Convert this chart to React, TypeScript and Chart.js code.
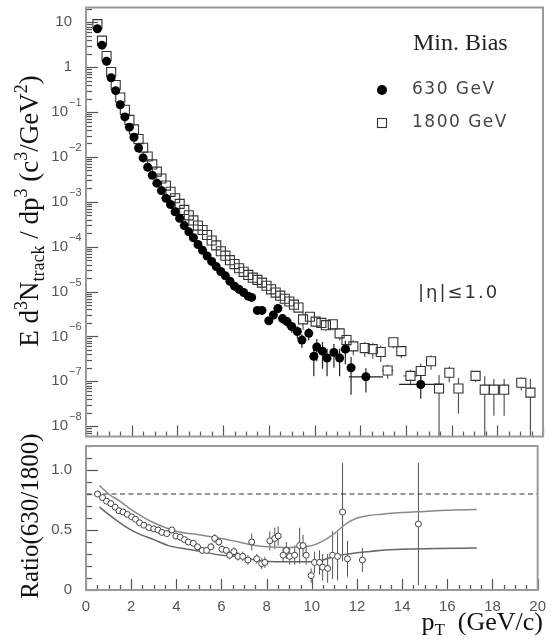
import React, { useEffect, useRef } from 'react';
import { Chart, registerables } from 'chart.js';
Chart.register(...registerables);

// ---------- data: 630 GeV spectrum (filled circles) ----------
const pt630 = [0.5, 0.7, 0.9, 1.1, 1.3, 1.5, 1.7, 1.9, 2.1, 2.3, 2.5, 2.7, 2.9, 3.1, 3.3, 3.5, 3.7, 3.9, 4.1, 4.3,
  4.5, 4.7, 4.9, 5.1, 5.3, 5.5, 5.7, 5.9, 6.1, 6.3, 6.5, 6.7, 6.9, 7.1, 7.25, 7.5, 7.7, 8.0, 8.2, 8.4,
  8.6, 8.8, 9.0, 9.25, 9.45, 9.75, 9.97, 10.1, 10.35, 10.55, 10.85, 11.1, 11.35, 11.6, 12.25, 14.65];
const val630 = [7.2, 3.1, 1.35, 0.58, 0.30, 0.145, 0.078, 0.046, 0.0275, 0.0158, 0.0095, 0.0059, 0.0039, 0.0026,
  0.00178, 0.0012, 8.7e-4, 6.0e-4, 4.3e-4, 2.95e-4, 2.14e-4, 1.58e-4, 1.12e-4, 8.3e-5, 6.2e-5, 4.7e-5, 3.6e-5,
  2.8e-5, 2.24e-5, 1.7e-5, 1.32e-5, 1.12e-5, 9.5e-6, 7.9e-6, 7.4e-6, 3.8e-6, 3.8e-6, 2.24e-6, 3.0e-6, 4.2e-6,
  2.5e-6, 2.14e-6, 1.66e-6, 1.29e-6, 8.3e-7, 1.17e-6, 3.6e-7, 5.8e-7, 4.7e-7, 3.3e-7, 4.4e-7, 3.3e-7, 5.2e-7,
  2.0e-7, 1.26e-7, 8.5e-8];
const err630 = [0, 0, 0, 0, 0, 0, 0, 0, 0, 0, 0, 0, 0, 0, 0, 0, 0, 0, 0, 0, 0, 0, 0, 0, 0, 0, 0, 0, 0, 0, 0, 0, 0, 0,
  0, 0.5e-6, 0.5e-6, 0.45e-6, 0.6e-6, 0.9e-6, 0.6e-6, 0.55e-6, 0.45e-6, 0.4e-6, 2.8e-7, 3.5e-7, 2.3e-7, 3.0e-7,
  2.8e-7, 2.0e-7, 2.4e-7, 2.0e-7, 2.8e-7, 1.5e-7, 0.7e-7, 4.4e-8];
const xerr630 = [0, 0, 0, 0, 0, 0, 0, 0, 0, 0, 0, 0, 0, 0, 0, 0, 0, 0, 0, 0, 0, 0, 0, 0, 0, 0, 0, 0, 0, 0, 0, 0, 0, 0,
  0, 0, 0, 0, 0, 0, 0, 0, 0, 0, 0, 0, 0, 0, 0, 0, 0, 0, 0, 0, 0.75, 0.95];

// ---------- data: 1800 GeV spectrum (open squares) ----------
const pt1800 = [0.5, 0.7, 0.9, 1.1, 1.3, 1.5, 1.7, 1.9, 2.1, 2.3, 2.5, 2.7, 2.9, 3.1, 3.3, 3.5, 3.7, 3.9, 4.1, 4.3,
  4.5, 4.7, 4.9, 5.1, 5.3, 5.5, 5.7, 5.9, 6.1, 6.3, 6.5, 6.7, 6.9, 7.1, 7.3, 7.5, 7.7, 7.9, 8.1, 8.3, 8.5, 8.7,
  8.9, 9.1, 9.3, 9.5, 9.8, 10.05, 10.3, 10.5, 10.8, 11.1, 11.4, 11.7, 12.2, 12.55, 12.9, 13.2, 13.45, 13.8, 14.2,
  14.65, 15.1, 15.45, 15.9, 16.3, 17.05, 17.45, 17.85, 18.3, 19.05, 19.45];
const val1800 = [9.1, 3.9, 1.77, 0.78, 0.40, 0.21, 0.112, 0.067, 0.041, 0.025, 0.016, 0.0102, 0.0068, 0.0047, 0.0033,
  0.0023, 0.00167, 0.0012, 9.0e-4, 6.6e-4, 5.0e-4, 3.85e-4, 2.95e-4, 2.35e-4, 1.82e-4, 1.37e-4, 1.07e-4, 7.9e-5,
  6.3e-5, 5.0e-5, 4.1e-5, 3.3e-5, 2.75e-5, 2.35e-5, 2.04e-5, 1.82e-5, 1.58e-5, 1.35e-5, 1.12e-5, 9.5e-6, 8.1e-6,
  6.9e-6, 6.0e-6, 5.1e-6, 4.4e-6, 2.4e-6, 2.75e-6, 2.14e-6, 2.0e-6, 1.78e-6, 1.86e-6, 1.17e-6, 8.3e-7, 6.0e-7,
  5.5e-7, 5.2e-7, 4.5e-7, 1.74e-7, 7.4e-7, 4.7e-7, 1.32e-7, 1.7e-7, 2.8e-7, 6.9e-8, 1.55e-7, 6.9e-8, 1.32e-7,
  6.5e-8, 6.5e-8, 6.5e-8, 9.3e-8, 5.6e-8];
const err1800 = [0, 0, 0, 0, 0, 0, 0, 0, 0, 0, 0, 0, 0, 0, 0, 0, 0, 0, 0, 0, 0, 0, 0, 0, 0, 0, 0, 0, 0, 0, 0, 0, 0, 0,
  0, 2.0e-6, 1.8e-6, 1.6e-6, 1.4e-6, 1.2e-6, 1.0e-6, 0.9e-6, 0.8e-6, 0.7e-6, 0.65e-6, 1.0e-6, 0.6e-6, 0.5e-6,
  0.5e-6, 0.45e-6, 0.5e-6, 0.35e-6, 0.28e-6, 0.22e-6, 0.2e-6, 0.2e-6, 0.18e-6, 0.6e-7, 2.0e-7, 1.4e-7, 0.5e-7,
  0.8e-7, 1.0e-7, 7.0e-8, 0.6e-7, 5.0e-8, 3.5e-8, 6.5e-8, 4.8e-8, 4.8e-8, 3.0e-8, 5.6e-8];
const xerr1800 = [0, 0, 0, 0, 0, 0, 0, 0, 0, 0, 0, 0, 0, 0, 0, 0, 0, 0, 0, 0, 0, 0, 0, 0, 0, 0, 0, 0, 0, 0, 0, 0, 0, 0,
  0, 0, 0, 0, 0, 0, 0, 0, 0, 0, 0, 0, 0, 0, 0, 0, 0, 0, 0, 0, 0, 0, 0, 0.25, 0, 0, 0.3, 0, 0, 0, 0, 0, 0, 0, 0, 0, 0, 0];

// ---------- data: ratio 630/1800 ----------
const ptRatio = [0.51, 0.73, 0.91, 1.10, 1.29, 1.46, 1.64, 1.83, 2.02, 2.19, 2.37, 2.56, 2.78, 3.0, 3.19, 3.36, 3.58,
  3.80, 3.98, 4.17, 4.36, 4.53, 4.75, 4.94, 5.15, 5.34, 5.53, 5.70, 5.88, 6.02, 6.21, 6.36, 6.55, 6.73, 6.94, 7.17,
  7.34, 7.56, 7.78, 7.92, 8.14, 8.36, 8.51, 8.73, 8.87, 9.02, 9.24, 9.46, 9.61, 9.75, 9.97, 10.12, 10.34, 10.48,
  10.70, 10.92, 11.14, 11.36, 11.58, 12.24, 14.72];
const valRatio = [0.80, 0.77, 0.74, 0.72, 0.69, 0.66, 0.65, 0.63, 0.61, 0.59, 0.56, 0.54, 0.52, 0.51, 0.50, 0.48, 0.47,
  0.50, 0.45, 0.44, 0.42, 0.40, 0.39, 0.36, 0.33, 0.33, 0.36, 0.43, 0.40, 0.34, 0.33, 0.29, 0.32, 0.28, 0.28, 0.25,
  0.40, 0.26, 0.22, 0.23, 0.41, 0.43, 0.45, 0.29, 0.33, 0.28, 0.29, 0.37, 0.37, 0.29, 0.12, 0.23, 0.23, 0.19, 0.18,
  0.29, 0.28, 0.65, 0.26, 0.25, 0.55];
const errRatio = [0.015, 0.015, 0.015, 0.015, 0.015, 0.015, 0.015, 0.015, 0.015, 0.015, 0.015, 0.015, 0.02, 0.02, 0.02,
  0.02, 0.02, 0.025, 0.02, 0.02, 0.02, 0.025, 0.025, 0.025, 0.025, 0.025, 0.03, 0.035, 0.03, 0.03, 0.03, 0.035, 0.035,
  0.035, 0.04, 0.04, 0.07, 0.04, 0.045, 0.045, 0.08, 0.09, 0.08, 0.06, 0.07, 0.07, 0.08, 0.15, 0.09, 0.08, 0.06, 0.09,
  0.1, 0.11, 0.12, 0.2, 0.2, 0.41, 0.15, 0.1, 0.51];
const noXerrRatio = ptRatio.map(() => 0);

// band curves in the ratio panel
const upperPt = [0.6, 1, 1.5, 2, 3, 4, 5, 6, 7, 7.5, 8, 9, 9.5, 10, 10.5, 11, 11.5, 12, 12.5, 13, 14, 15, 16, 17.3];
const upperVal = [0.87, 0.80, 0.74, 0.67, 0.56, 0.49, 0.46, 0.43, 0.39, 0.37, 0.36, 0.355, 0.36, 0.37, 0.41, 0.47, 0.55,
  0.60, 0.62, 0.63, 0.645, 0.655, 0.665, 0.67];
const lowerPt = [0.6, 1, 1.5, 2.2, 3, 3.65, 4.5, 5.1, 6, 6.6, 7.2, 7.9, 9, 10.1, 10.5, 11, 11.6, 12, 13, 14, 15.5, 17.3];
const lowerVal = [0.69, 0.63, 0.56, 0.48, 0.42, 0.37, 0.34, 0.32, 0.29, 0.28, 0.26, 0.24, 0.235, 0.235, 0.25, 0.28, 0.30,
  0.31, 0.33, 0.34, 0.345, 0.35];
const refRatio = 0.8;

// axis settings
const xRange = [0, 20];
const xMajor = 2;
const xMinor = 0.5;
const yLogRange = [-8.23, 1.33];
const yLogLabels = [1, 0, -1, -2, -3, -4, -5, -6, -7, -8];
const ratioRange = [0, 1.2];

const SANS = '"Liberation Sans", Arial, Helvetica, sans-serif';
const SERIF = '"Liberation Serif", "Times New Roman", serif';
const WIDE = '"DejaVu Sans", sans-serif';

function line(ctx: CanvasRenderingContext2D, x1: number, y1: number, x2: number, y2: number) {
  ctx.beginPath();
  ctx.moveTo(x1, y1);
  ctx.lineTo(x2, y2);
  ctx.stroke();
}

type Seg = { t: string; size: number; dy: number };
function drawRich(ctx: CanvasRenderingContext2D, segs: Seg[], family: string, x: number, y: number, rot: number,
  align: 'center' | 'left' | 'right') {
  ctx.save();
  ctx.translate(x, y);
  ctx.rotate(rot);
  let total = 0;
  const ws: number[] = [];
  for (const s of segs) {
    ctx.font = `${s.size}px ${family}`;
    const w = ctx.measureText(s.t).width;
    ws.push(w);
    total += w;
  }
  let cx = align === 'center' ? -total / 2 : align === 'right' ? -total : 0;
  ctx.textAlign = 'left';
  ctx.textBaseline = 'alphabetic';
  segs.forEach((s, i) => {
    ctx.font = `${s.size}px ${family}`;
    ctx.fillText(s.t, cx, s.dy);
    cx += ws[i];
  });
  ctx.restore();
}

interface ErrSet { xs: number[]; ys: number[]; ey: number[]; ex: number[]; color: string; gap: number; width: number }

function errorBarPlugin(sets: ErrSet[]) {
  return {
    id: 'errorBars',
    beforeDatasetsDraw(chart: any) {
      const { ctx, chartArea: a, scales } = chart;
      const sx = scales.x, sy = scales.y;
      ctx.save();
      ctx.beginPath();
      ctx.rect(a.left, a.top, a.right - a.left, a.bottom - a.top);
      ctx.clip();
      for (const s of sets) {
        ctx.strokeStyle = s.color;
        ctx.lineWidth = s.width;
        for (let i = 0; i < s.xs.length; i++) {
          const px = sx.getPixelForValue(s.xs[i]);
          const py = sy.getPixelForValue(s.ys[i]);
          const e = s.ey[i];
          if (e > 0) {
            const hi = sy.getPixelForValue(s.ys[i] + e);
            const lowV = s.ys[i] - e;
            const lo = lowV > 0 ? sy.getPixelForValue(lowV) : a.bottom;
            if (py - s.gap > hi) line(ctx, px, hi, px, py - s.gap);
            if (lo > py + s.gap) line(ctx, px, py + s.gap, px, lo);
          }
          const h = s.ex[i];
          if (h > 0) {
            const l = sx.getPixelForValue(s.xs[i] - h);
            const r = sx.getPixelForValue(s.xs[i] + h);
            if (px - s.gap > l) line(ctx, l, py, px - s.gap, py);
            if (r > px + s.gap) line(ctx, px + s.gap, py, r, py);
          }
        }
      }
      ctx.restore();
    },
  };
}

function drawXTicks(ctx: CanvasRenderingContext2D, chart: any) {
  const { chartArea: a, scales } = chart;
  ctx.strokeStyle = '#555';
  ctx.lineWidth = 1.2;
  const n = Math.round((xRange[1] - xRange[0]) / xMinor);
  for (let i = 0; i <= n; i++) {
    const v = xRange[0] + i * xMinor;
    const px = Math.round(scales.x.getPixelForValue(v)) + 0.5;
    const major = Math.abs(v / xMajor - Math.round(v / xMajor)) < 1e-6;
    line(ctx, px, a.bottom, px, a.bottom - (major ? 11 : 5));
  }
}

const topDecor = {
  id: 'topDecor',
  afterDraw(chart: any) {
    const { ctx, chartArea: a, scales } = chart;
    const sy = scales.y;
    ctx.save();
    // left log ticks (inward)
    ctx.strokeStyle = '#555';
    ctx.lineWidth = 1.2;
    for (let n = -9; n <= 1; n++) {
      for (let k = 1; k <= 9; k++) {
        const v = k * Math.pow(10, n);
        if (v < sy.min || v > sy.max) continue;
        const py = Math.round(sy.getPixelForValue(v)) + 0.5;
        line(ctx, a.left, py, a.left + (k === 1 ? 12 : 6), py);
      }
    }
    drawXTicks(ctx, chart);
    // frame
    ctx.strokeStyle = '#9a9a9a';
    ctx.lineWidth = 2;
    ctx.strokeRect(a.left, a.top, a.right - a.left, a.bottom - a.top);

    // y tick labels with superscripts
    ctx.fillStyle = '#555';
    ctx.textBaseline = 'middle';
    for (const n of yLogLabels) {
      const py = sy.getPixelForValue(Math.pow(10, n));
      if (n === 1 || n === 0) {
        ctx.font = `15px ${SANS}`;
        ctx.textAlign = 'right';
        ctx.fillText(n === 1 ? '10' : '1', 72, py);
      } else {
        ctx.font = `15px ${SANS}`;
        ctx.textAlign = 'right';
        ctx.fillText('10', 68, py);
        ctx.font = `11px ${SANS}`;
        ctx.textAlign = 'left';
        ctx.fillText('\u2212' + String(-n), 69, py - 9);
      }
    }

    // y axis title
    ctx.fillStyle = '#111';
    const S = 27, s = 18;
    drawRich(ctx, [
      { t: 'E d', size: S, dy: 0 }, { t: '3', size: s, dy: -11 }, { t: 'N', size: S, dy: 0 },
      { t: 'track', size: s, dy: 6 }, { t: ' / dp', size: S, dy: 0 }, { t: '3', size: s, dy: -11 },
      { t: ' (c', size: S, dy: 0 }, { t: '3', size: s, dy: -11 }, { t: '/GeV', size: S, dy: 0 },
      { t: '2', size: s, dy: -11 }, { t: ')', size: S, dy: 0 },
    ], SERIF, 38, 211, -Math.PI / 2, 'center');

    // Min. Bias
    ctx.fillStyle = '#222';
    ctx.font = `24px ${SERIF}`;
    ctx.textAlign = 'left';
    ctx.textBaseline = 'alphabetic';
    ctx.fillText('Min. Bias', 413, 50);

    // legend
    ctx.fillStyle = '#000';
    ctx.beginPath();
    ctx.arc(382, 90, 5, 0, Math.PI * 2);
    ctx.fill();
    ctx.strokeStyle = '#333';
    ctx.lineWidth = 1.1;
    ctx.strokeRect(377.5, 118.5, 9, 9);
    ctx.fillStyle = '#444';
    ctx.font = `17px ${WIDE}`;
    (ctx as any).letterSpacing = '1.5px';
    ctx.textBaseline = 'middle';
    ctx.fillText('630 GeV', 412, 90);
    ctx.fillText('1800 GeV', 412, 123);
    // |eta| annotation
    ctx.font = `18px ${WIDE}`;
    (ctx as any).letterSpacing = '2px';
    ctx.fillStyle = '#333';
    ctx.fillText('|\u03b7|\u22641.0', 418, 293);
    (ctx as any).letterSpacing = '0px';
    ctx.restore();
  },
};

const bottomDecor = {
  id: 'bottomDecor',
  afterDraw(chart: any) {
    const { ctx, chartArea: a, scales } = chart;
    const sy = scales.y;
    ctx.save();
    ctx.strokeStyle = '#555';
    ctx.lineWidth = 1.2;
    const steps = Math.round((ratioRange[1] - ratioRange[0]) / 0.1);
    for (let i = 0; i <= steps; i++) {
      const v = ratioRange[0] + i * 0.1;
      const py = Math.round(sy.getPixelForValue(v)) + 0.5;
      const major = i % 5 === 0;
      line(ctx, a.left, py, a.left + (major ? 12 : 6), py);
    }
    drawXTicks(ctx, chart);
    ctx.strokeStyle = '#9a9a9a';
    ctx.lineWidth = 2;
    ctx.strokeRect(a.left, a.top, a.right - a.left, a.bottom - a.top);

    ctx.fillStyle = '#111';
    drawRich(ctx, [{ t: 'Ratio(630/1800)', size: 25, dy: 0 }], SERIF, 38, 516 - 420, -Math.PI / 2, 'center');
    drawRich(ctx, [
      { t: 'p', size: 26, dy: 0 }, { t: 'T', size: 17, dy: 5 }, { t: '  (GeV/c)', size: 26, dy: 0 },
    ], SERIF, 543, 630 - 420, 0, 'right');
    ctx.restore();
  },
};

export default function App() {
  const topRef = useRef<HTMLCanvasElement>(null);
  const botRef = useRef<HTMLCanvasElement>(null);

  useEffect(() => {
    const c1 = new Chart(topRef.current as HTMLCanvasElement, {
      type: 'scatter',
      data: {
        datasets: [
          {
            label: '630 GeV',
            data: pt630.map((x, i) => ({ x, y: val630[i] })),
            pointStyle: 'circle',
            pointRadius: 4.5,
            backgroundColor: '#000',
            borderColor: '#000',
            borderWidth: 0,
          },
          {
            label: '1800 GeV',
            data: pt1800.map((x, i) => ({ x, y: val1800[i] })),
            pointStyle: 'rect',
            pointRadius: 6.4,
            backgroundColor: 'rgba(0,0,0,0)',
            borderColor: '#333',
            borderWidth: 1.1,
          },
        ],
      },
      options: {
        animation: false,
        responsive: false,
        maintainAspectRatio: false,
        devicePixelRatio: 1,
        layout: { padding: { left: 86, top: 7, right: 11, bottom: 3 } },
        plugins: { legend: { display: false }, tooltip: { enabled: false } },
        events: [],
        scales: {
          x: { type: 'linear', min: xRange[0], max: xRange[1], display: false },
          y: { type: 'logarithmic', min: Math.pow(10, yLogRange[0]), max: Math.pow(10, yLogRange[1]), display: false },
        },
      },
      plugins: [
        errorBarPlugin([
          { xs: pt1800, ys: val1800, ey: err1800, ex: xerr1800, color: '#555', gap: 4.5, width: 1.2 },
          { xs: pt630, ys: val630, ey: err630, ex: xerr630, color: '#222', gap: 0, width: 1.2 },
        ]),
        topDecor,
      ],
    } as any);

    const c2 = new Chart(botRef.current as HTMLCanvasElement, {
      type: 'scatter',
      data: {
        datasets: [
          {
            label: 'ratio',
            data: ptRatio.map((x, i) => ({ x, y: valRatio[i] })),
            pointStyle: 'circle',
            pointRadius: 3,
            backgroundColor: '#fff',
            borderColor: '#444',
            borderWidth: 1,
          },
          {
            label: 'upper',
            data: upperPt.map((x, i) => ({ x, y: upperVal[i] })),
            showLine: true,
            pointRadius: 0,
            borderColor: '#8a8a8a',
            borderWidth: 1.5,
            cubicInterpolationMode: 'monotone',
          },
          {
            label: 'lower',
            data: lowerPt.map((x, i) => ({ x, y: lowerVal[i] })),
            showLine: true,
            pointRadius: 0,
            borderColor: '#666',
            borderWidth: 1.5,
            cubicInterpolationMode: 'monotone',
          },
          {
            label: 'ref',
            data: [{ x: xRange[0], y: refRatio }, { x: xRange[1], y: refRatio }],
            showLine: true,
            pointRadius: 0,
            borderColor: '#333',
            borderWidth: 1,
            borderDash: [5, 3.5],
          },
        ],
      },
      options: {
        animation: false,
        responsive: false,
        maintainAspectRatio: false,
        devicePixelRatio: 1,
        layout: { padding: { left: 0, top: 26, right: 11, bottom: 0 } },
        plugins: { legend: { display: false }, tooltip: { enabled: false } },
        events: [],
        scales: {
          x: {
            type: 'linear', min: xRange[0], max: xRange[1],
            grid: { display: false, drawTicks: false }, border: { display: false },
            ticks: { stepSize: xMajor, padding: 8, autoSkip: false, maxRotation: 0, includeBounds: false,
              color: '#555', font: { family: SANS, size: 15 } },
            afterFit: (s: any) => { s.height = 54; },
          },
          y: {
            type: 'linear', min: ratioRange[0], max: ratioRange[1],
            grid: { display: false, drawTicks: false }, border: { display: false },
            ticks: { stepSize: 0.5, padding: 14, includeBounds: false, color: '#555', font: { family: SANS, size: 15 } },
            afterFit: (s: any) => { s.width = 86; },
          },
        },
      },
      plugins: [
        errorBarPlugin([{ xs: ptRatio, ys: valRatio, ey: errRatio, ex: noXerrRatio, color: '#555', gap: 0, width: 1 }]),
        bottomDecor,
      ],
    } as any);

    return () => {
      c1.destroy();
      c2.destroy();
    };
  }, []);

  return (
    <div style={{ position: 'absolute', left: 0, top: 0, width: 554, height: 644, background: '#fff', overflow: 'hidden' }}>
      <canvas ref={topRef} width={554} height={444} style={{ position: 'absolute', left: 0, top: 0 }} />
      <canvas ref={botRef} width={554} height={224} style={{ position: 'absolute', left: 0, top: 420 }} />
    </div>
  );
}
